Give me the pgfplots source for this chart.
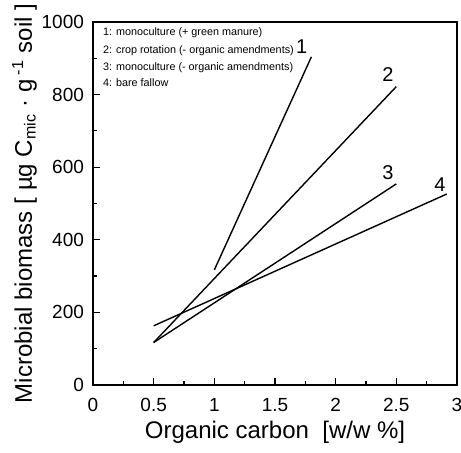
\documentclass[border=0pt]{standalone}
\usepackage{pgfplots}
\pgfplotsset{compat=1.18}
\usepackage{fontspec}
\setmainfont{Liberation Sans}

\begin{document}
\begin{tikzpicture}
% fixed page: axis box 182pt x 181.5pt at the origin
\useasboundingbox (-46.5pt,-34pt) rectangle (184pt,192.5pt);
\begin{axis}[
    at={(0,0)}, anchor=south west,
    scale only axis,
    width=182pt, height=181.5pt,
    xmin=0, xmax=3,
    ymin=0, ymax=1000,
    xtick={0,0.5,...,3},
    ytick={0,200,...,1000},
    minor x tick num=1,
    minor y tick num=1,
    tick pos=left,
    tick align=inside,
    major tick length=3.5pt,
    minor tick length=2pt,
    axis line style={line width=0.6pt},
    every tick/.style={black, line width=0.6pt},
    /pgf/number format/assume math mode=true,
    /pgf/number format/1000 sep={},
    tick label style={font=\fontsize{9.5}{11}\selectfont},
    xticklabel style={yshift=-3pt},
    yticklabel style={xshift=-1pt},
    label style={font=\fontsize{12}{14}\selectfont},
    xlabel={Organic carbon\ \ [w/w \%]},
    xlabel shift=-2pt,
    ylabel={Microbial biomass [ µg C\textsubscript{mic} · g\,\textsuperscript{-1} soil ]},
    ylabel shift=-4.5pt,
    clip=false,
]
\addplot[black, line width=0.7pt] coordinates {(1.0,317) (1.8,904)};
\addplot[black, line width=0.7pt] coordinates {(0.5,117) (2.5,822)};
\addplot[black, line width=0.7pt] coordinates {(0.5,117) (2.5,554)};
\addplot[black, line width=0.7pt] coordinates {(0.5,163) (2.915,526)};

\node[font=\fontsize{10}{12}\selectfont] at (axis cs:1.72,933) {1};
\node[font=\fontsize{10}{12}\selectfont] at (axis cs:2.43,854) {2};
\node[font=\fontsize{10}{12}\selectfont] at (axis cs:2.43,584) {3};
\node[font=\fontsize{10}{12}\selectfont] at (axis cs:2.86,551) {4};

\node[anchor=west, inner sep=0pt, font=\fontsize{5.4}{6}\selectfont] at (axis cs:0.08,970) {1: monoculture (+ green manure)};
\node[anchor=west, inner sep=0pt, font=\fontsize{5.4}{6}\selectfont] at (axis cs:0.08,920) {2: crop rotation (- organic amendments)};
\node[anchor=west, inner sep=0pt, font=\fontsize{5.4}{6}\selectfont] at (axis cs:0.08,873) {3: monoculture (- organic amendments)};
\node[anchor=west, inner sep=0pt, font=\fontsize{5.4}{6}\selectfont] at (axis cs:0.08,832) {4: bare fallow};
\end{axis}
\end{tikzpicture}
\end{document}
